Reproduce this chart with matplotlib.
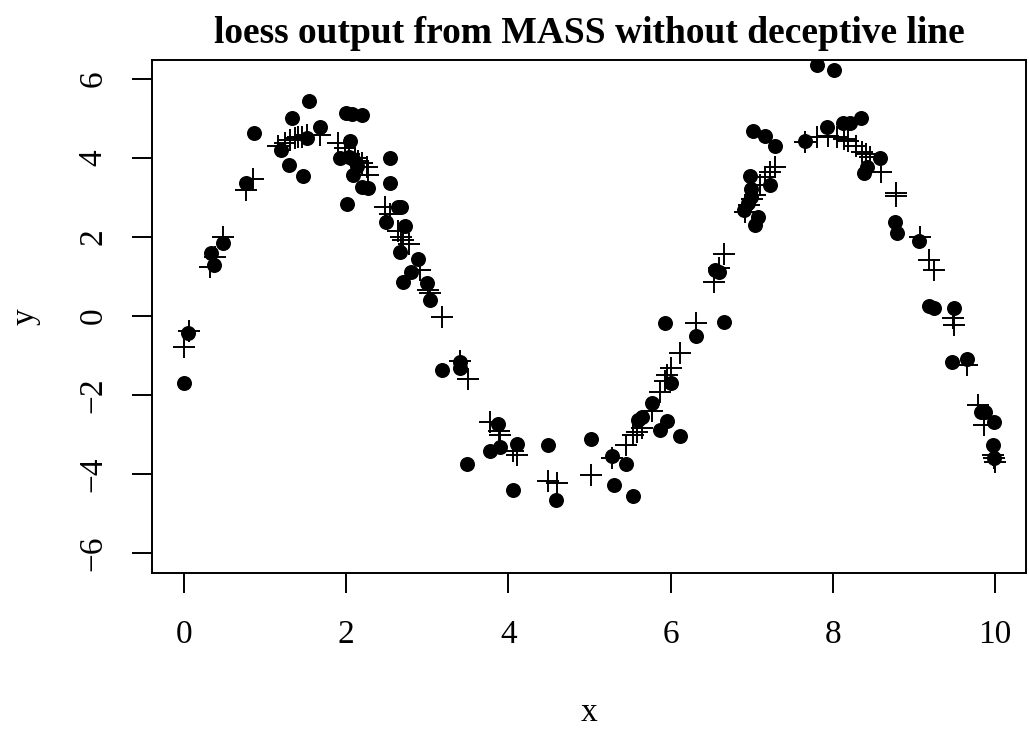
import matplotlib
matplotlib.use("Agg")
import matplotlib.pyplot as plt

# observed points (filled circles)
obs_x = [0.00, 0.05, 0.33, 0.37, 0.48, 0.77, 0.86, 1.20, 1.29, 1.33,
         1.47, 1.51, 1.545, 1.68, 1.92, 2.00, 2.01, 2.03, 2.04, 2.07,
         2.08, 2.08, 2.13, 2.19, 2.19, 2.27, 2.49, 2.54, 2.54, 2.64,
         2.68, 2.66, 2.72, 2.70, 2.80, 2.89, 3.00, 3.03, 3.18, 3.40,
         3.40, 3.49, 3.77, 3.87, 3.90, 4.05, 4.10, 4.49, 4.59, 5.02,
         5.27, 5.30, 5.45, 5.53, 5.60, 5.65, 5.77, 5.87, 5.93, 5.96,
         6.00, 6.12, 6.31, 6.55, 6.59, 6.66, 6.90, 6.95, 6.99, 6.99,
         6.98, 7.01, 7.04, 7.08, 7.16, 7.22, 7.29, 7.66, 7.80, 7.93,
         8.01, 8.12, 8.21, 8.34, 8.38, 8.42, 8.58, 8.77, 8.79, 9.06,
         9.19, 9.24, 9.49, 9.47, 9.65, 9.82, 9.88, 9.99, 9.97, 9.99]
obs_y = [-1.69, -0.43, 1.60, 1.30, 1.84, 3.36, 4.64, 4.19, 3.82, 5.02,
         3.54, 4.50, 5.43, 4.79, 3.99, 5.15, 2.84, 4.02, 4.43, 5.10,
         3.97, 3.57, 3.80, 5.09, 3.27, 3.25, 2.39, 4.01, 3.36, 2.75,
         2.76, 1.63, 2.28, 0.87, 1.12, 1.44, 0.84, 0.41, -1.38, -1.32,
         -1.16, -3.75, -3.43, -2.73, -3.33, -4.41, -3.25, -3.28, -4.67, -3.11,
         -3.56, -4.28, -3.75, -4.56, -2.63, -2.57, -2.21, -2.90, -0.17, -2.67,
         -1.69, -3.04, -0.52, 1.15, 1.10, -0.15, 2.68, 2.85, 3.02, 3.21,
         3.54, 4.68, 2.30, 2.51, 4.56, 3.31, 4.30, 4.43, 6.35, 4.79,
         6.23, 4.89, 4.88, 5.02, 3.61, 3.78, 4.01, 2.39, 2.11, 1.90,
         0.25, 0.19, 0.21, -1.16, -1.10, -2.44, -2.44, -2.69, -3.27, -3.60]

# loess fitted values (plus signs)
fit_x = [0.00, 0.06, 0.32, 0.38, 0.485, 0.77, 0.855, 1.16, 1.245, 1.31,
         1.37, 1.41, 1.45, 1.51, 1.68, 1.90, 1.98, 2.03, 2.11, 2.15,
         2.19, 2.25, 2.27, 2.48, 2.54, 2.64, 2.68, 2.70, 2.77, 2.91,
         3.01, 3.03, 3.18, 3.40, 3.50, 3.77, 3.88, 3.90, 4.06, 4.10,
         4.49, 4.60, 5.02, 5.27, 5.45, 5.54, 5.59, 5.64, 5.77, 5.87,
         5.93, 5.95, 6.00, 6.12, 6.31, 6.53, 6.59, 6.66, 6.92, 6.96,
         7.00, 7.04, 7.10, 7.16, 7.22, 7.29, 7.66, 7.80, 7.94, 8.05,
         8.14, 8.19, 8.29, 8.36, 8.41, 8.46, 8.59, 8.78, 8.78, 9.07,
         9.19, 9.24, 9.48, 9.49, 9.65, 9.79, 9.86, 9.97, 9.98, 10.00]
fit_y = [-0.78, -0.37, 1.25, 1.48, 2.01, 3.19, 3.46, 4.29, 4.39, 4.46,
         4.50, 4.52, 4.54, 4.58, 4.58, 4.37, 4.24, 4.10, 3.99, 3.93,
         3.87, 3.76, 3.57, 2.77, 2.58, 2.16, 2.01, 1.92, 1.82, 1.15,
         0.66, 0.57, -0.04, -1.15, -1.59, -2.68, -2.91, -3.01, -3.43, -3.52,
         -4.17, -4.24, -4.03, -3.61, -3.28, -3.01, -2.93, -2.84, -2.41, -1.92,
         -1.66, -1.49, -1.32, -0.93, -0.19, 0.87, 1.21, 1.57, 2.64, 2.81,
         2.95, 3.06, 3.32, 3.53, 3.65, 3.78, 4.41, 4.54, 4.56, 4.52,
         4.47, 4.43, 4.30, 4.16, 4.09, 4.03, 3.65, 3.12, 3.04, 2.01,
         1.42, 1.15, -0.06, -0.23, -1.24, -2.25, -2.76, -3.52, -3.60, -3.69]

x_ticks = [0, 2, 4, 6, 8, 10]
y_ticks = [-6, -4, -2, 0, 2, 4, 6]

plt.rcParams["font.family"] = ["Liberation Serif", "DejaVu Serif"]
plt.rcParams["axes.unicode_minus"] = True

fig = plt.figure(figsize=(10.29, 7.30), dpi=100)
ax = fig.add_axes([152 / 1029, 157 / 730, 874 / 1029, 513 / 730])

ax.plot(obs_x, obs_y, "o", color="black", markersize=10.8, markeredgewidth=0)
ax.plot(fit_x, fit_y, "+", color="black", markersize=16, markeredgewidth=1.4)

ax.set_xlim(-0.395, 10.38)
ax.set_ylim(-6.51, 6.48)
ax.set_xticks(x_ticks)
ax.set_yticks(y_ticks)
ax.set_yticklabels([str(v).replace("-", "\u2212") for v in y_ticks])

for s in ax.spines.values():
    s.set_linewidth(1.4)
ax.tick_params(direction="out", length=14.4, width=1.4, labelsize=24)
ax.tick_params(axis="x", pad=19)
ax.tick_params(axis="y", pad=17, labelrotation=90)
for lab in ax.get_yticklabels():
    lab.set_verticalalignment("center")

ax.set_xlabel("x", fontsize=24)
ax.set_ylabel("y", fontsize=24)
ax.xaxis.set_label_coords(0.5, -0.273)
ax.yaxis.set_label_coords(-0.1453, 0.5)
ax.xaxis.label.set_verticalalignment("center")
ax.yaxis.label.set_verticalalignment("center")

ax.set_title("loess output from MASS without deceptive line",
             fontsize=27, fontweight="bold", pad=12.5)

fig.savefig("out.png", dpi=100)
